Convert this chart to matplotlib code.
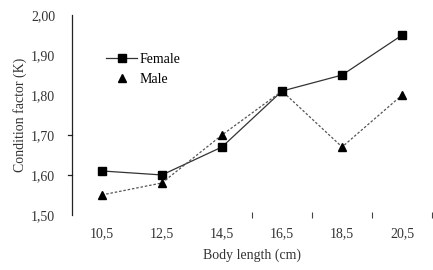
import matplotlib.pyplot as plt
from matplotlib.ticker import FixedLocator

# data
lengths = ['10,5', '12,5', '14,5', '16,5', '18,5', '20,5']
female = [1.61, 1.60, 1.67, 1.81, 1.85, 1.95]
male = [1.55, 1.58, 1.70, 1.81, 1.67, 1.80]
yticks = [1.50, 1.60, 1.70, 1.80, 1.90, 2.00]

plt.rcParams['font.family'] = ['Liberation Serif', 'DejaVu Serif']

fig = plt.figure(figsize=(4.33, 2.70), dpi=100)
ax = fig.add_axes([0.166, 0.204, 0.832, 0.74])

x = list(range(len(lengths)))
ax.plot(x, female, color='#333333', lw=0.9, ls='-', marker='s', ms=5.5,
        mfc='black', mec='black', label='Female')
ax.plot(x, male, color='#555555', lw=0.9, ls=(0, (2, 1.5)), marker='^', ms=5.5,
        mfc='black', mec='black', label='Male')

ax.set_xlim(-0.5, 5.5)
ax.set_ylim(1.50, 2.00)
ax.set_xticks(x)
ax.set_xticklabels(lengths)
# only some tick marks survive in the reference
ax.xaxis.set_minor_locator(FixedLocator([2.5, 3.5, 4.5, 5.5]))
ax.tick_params(axis='x', which='major', length=0, pad=9, labelsize=10, colors='#333333')
ax.tick_params(axis='x', which='minor', length=4, direction='inout', width=0.8, color='#444444')
ax.set_yticks(yticks)
ax.set_yticklabels([f'{v:.2f}'.replace('.', ',') for v in yticks])
ax.tick_params(axis='y', length=0, labelsize=10, colors='#333333', pad=12)
for yv in [1.60, 1.70]:
    ax.plot([-0.56, -0.5], [yv, yv], color='#222222', lw=0.9, clip_on=False)

for s in ['top', 'right', 'bottom']:
    ax.spines[s].set_visible(False)
ax.spines['left'].set_linewidth(0.9)
ax.spines['left'].set_color('#222222')

ax.set_xlabel('Body length (cm)', fontsize=10, color='#333333', labelpad=6)
ax.set_ylabel('Condition factor (K)', fontsize=10, color='#333333', labelpad=3)

leg = ax.legend(loc='upper left', bbox_to_anchor=(0.08, 0.84), frameon=False, fontsize=10,
                handlelength=2.2, handletextpad=0.2, labelspacing=0.55, borderaxespad=0)
leg.get_lines()[1].set_linestyle('none')

fig.savefig('out.png', dpi=100)
